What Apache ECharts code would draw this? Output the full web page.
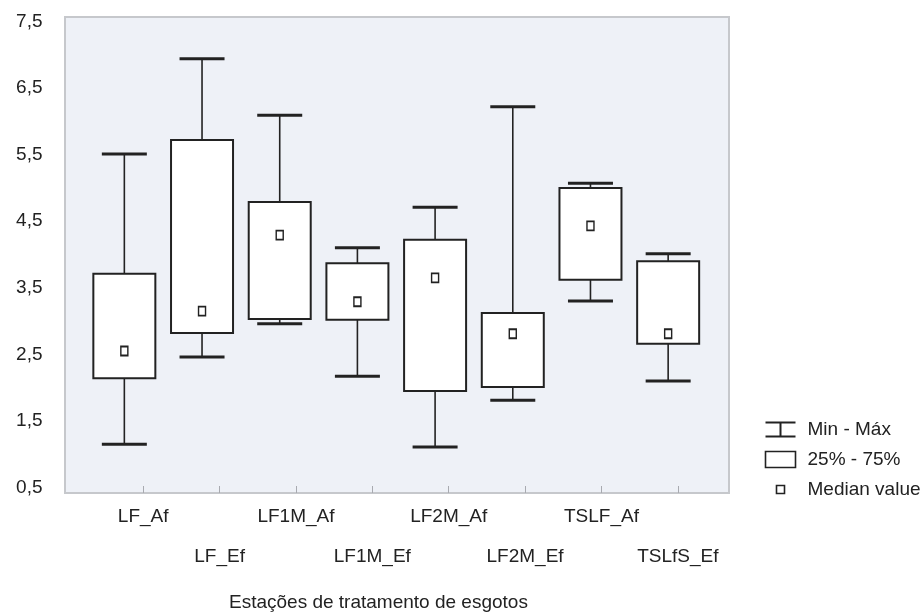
<!DOCTYPE html>
<html>
<head>
<meta charset="utf-8">
<style>
  html, body { margin: 0; padding: 0; background: #fff; }
  #chart { width: 922px; height: 614px; }
</style>
<script src="https://cdn.jsdelivr.net/npm/echarts@6/dist/echarts.min.js"></script>
</head>
<body>
<div id="chart"></div>
<script>
// stations (x categories)
var categories = ['LF_Af', 'LF_Ef', 'LF1M_Af', 'LF1M_Ef', 'LF2M_Af', 'LF2M_Ef', 'TSLF_Af', 'TSLfS_Ef']
// box stats
var minVals = [1.15, 2.46, 2.96, 2.17, 1.11, 1.81, 3.30, 2.10]
var q1Vals = [2.14, 2.82, 3.03, 3.02, 1.95, 2.01, 3.62, 2.66]
var medianVals = [2.55, 3.15, 4.29, 3.29, 3.65, 2.81, 4.43, 2.81]
var q3Vals = [3.71, 5.72, 4.79, 3.87, 4.22, 3.12, 5.00, 3.90]
var maxVals = [5.51, 6.94, 6.09, 4.10, 4.71, 6.22, 5.07, 4.01]
var yMin = 0.5
var yMax = 7.5
var yStep = 1

var FONT = 'Liberation Sans, Arial, sans-serif'
var FS = 19
var INK = '#222'

var boxData = categories.map(function(c, i) {
  return [i, minVals[i], q1Vals[i], medianVals[i], q3Vals[i], maxVals[i]]
})
var medianData = categories.map(function(c, i) {
  return [i, medianVals[i]]
})

function renderWhisker(params, api) {
  var i = api.value(0)
  var pMax = api.coord([i, api.value(5)])
  var pQ3 = api.coord([i, api.value(4)])
  var pQ1 = api.coord([i, api.value(2)])
  var pMin = api.coord([i, api.value(1)])
  var x = pMax[0]
  var half = 22.5
  var stem = { stroke: INK, lineWidth: 1.6 }
  var cap = { stroke: INK, lineWidth: 3 }
  return {
    type: 'group',
    children: [
      { type: 'line', shape: { x1: x, y1: pMax[1], x2: x, y2: pQ3[1] }, style: stem },
      { type: 'line', shape: { x1: x, y1: pQ1[1], x2: x, y2: pMin[1] }, style: stem },
      { type: 'line', shape: { x1: x - half, y1: pMax[1], x2: x + half, y2: pMax[1] }, style: cap },
      { type: 'line', shape: { x1: x - half, y1: pMin[1], x2: x + half, y2: pMin[1] }, style: cap }
    ]
  }
}

function renderBox(params, api) {
  var i = api.value(0)
  var pQ3 = api.coord([i, api.value(4)])
  var pQ1 = api.coord([i, api.value(2)])
  var w = 62
  return {
    type: 'rect',
    shape: { x: pQ3[0] - w / 2, y: pQ3[1], width: w, height: pQ1[1] - pQ3[1] },
    style: { fill: '#fff', stroke: INK, lineWidth: 2 }
  }
}

var chart = echarts.init(document.getElementById('chart'))

chart.setOption({
  animation: false,
  textStyle: { fontFamily: FONT },
  title: {
    text: 'Estações de tratamento de esgotos',
    left: 224,
    top: 588,
    textStyle: { fontFamily: FONT, fontSize: FS, fontWeight: 'normal', color: INK }
  },
  legend: {
    orient: 'vertical',
    left: 758,
    top: 415,
    itemWidth: 30,
    itemHeight: 16,
    itemGap: 11,
    selectedMode: false,
    textStyle: { fontFamily: FONT, fontSize: FS, color: INK, padding: [0, 0, 0, 7] },
    data: [
      {
        name: 'Min - Máx',
        icon: 'path://M0,1L30,1M15,1L15,15M0,15L30,15',
        itemStyle: { color: 'none', borderColor: INK, borderWidth: 2 }
      },
      {
        name: '25% - 75%',
        icon: 'rect',
        itemStyle: { color: '#fff', borderColor: INK, borderWidth: 1.6 }
      },
      {
        name: 'Median value',
        icon: 'path://M0,0M30,16M11,4L19,4L19,12L11,12Z',
        itemStyle: { color: '#fff', borderColor: INK, borderWidth: 1.6 }
      }
    ]
  },
  grid: [
    // plot frame
    { left: 65, right: 193, top: 17, bottom: 121, show: true, backgroundColor: '#eef1f7', borderColor: '#c6c8cc', borderWidth: 2 },
    // boxes
    { left: 85.5, right: 215, top: 21.5, bottom: 126.5 },
    // category labels
    { left: 105, right: 206, top: 17, bottom: 121 }
  ],
  xAxis: [
    { gridIndex: 0, type: 'value', show: false },
    { gridIndex: 1, type: 'category', data: categories, show: false },
    {
      gridIndex: 2,
      type: 'category',
      data: categories,
      axisLine: { show: false },
      axisTick: { show: true, inside: true, length: 7, alignWithLabel: true, lineStyle: { color: '#a8aab0', width: 1 } },
      axisLabel: {
        margin: 4,
        fontFamily: FONT,
        fontSize: FS,
        color: INK,
        lineHeight: 40,
        interval: 0,
        formatter: function(v, i) {
          return i % 2 ? '\n' + v : v
        }
      }
    }
  ],
  yAxis: [
    { gridIndex: 0, type: 'value', show: false },
    {
      gridIndex: 1,
      type: 'value',
      min: yMin,
      max: yMax,
      interval: yStep,
      axisLine: { show: false },
      axisTick: { show: false },
      splitLine: { show: false },
      axisLabel: {
        margin: 43,
        fontFamily: FONT,
        fontSize: FS,
        color: INK,
        formatter: function(v) {
          return v.toFixed(1).replace('.', ',')
        }
      }
    },
    { gridIndex: 2, type: 'value', show: false }
  ],
  series: [
    {
      name: 'Min - Máx',
      type: 'custom',
      xAxisIndex: 1,
      yAxisIndex: 1,
      renderItem: renderWhisker,
      encode: { x: 0, y: [1, 5] },
      data: boxData,
      z: 2
    },
    {
      name: '25% - 75%',
      type: 'custom',
      xAxisIndex: 1,
      yAxisIndex: 1,
      renderItem: renderBox,
      encode: { x: 0, y: [2, 4] },
      data: boxData,
      z: 3
    },
    {
      name: 'Median value',
      type: 'scatter',
      xAxisIndex: 1,
      yAxisIndex: 1,
      symbol: 'rect',
      symbolSize: [7, 9],
      itemStyle: { color: '#fff', borderColor: INK, borderWidth: 1.6, opacity: 1 },
      data: medianData,
      z: 4
    }
  ]
})
</script>
</body>
</html>
